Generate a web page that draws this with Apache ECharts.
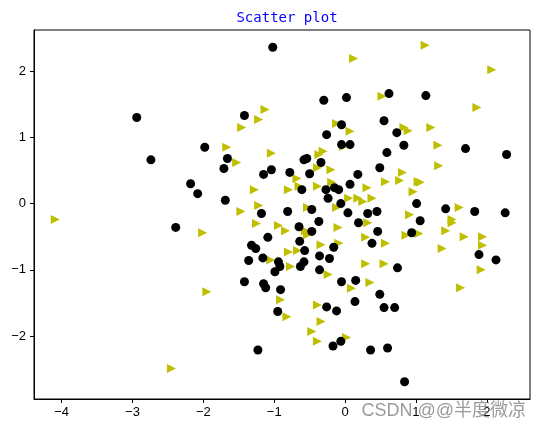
<!DOCTYPE html>
<html>
<head>
<meta charset="utf-8">
<title>Scatter plot</title>
<script src="https://cdn.jsdelivr.net/npm/echarts@6/dist/echarts.min.js"></script>
<style>
  html, body { margin: 0; padding: 0; background: #fff; }
  #scatterChart { width: 539px; height: 431px; }
</style>
</head>
<body>
<div id="scatterChart"></div>
<script>
// 黑色圆点 (x, y)
const circleX = [-2.94, -2.74, -1.98, -1.66, -1.71, -1.42, -2.18, -2.08, -1.69, -1.15,
  -1.18, -1.02, -0.30, 0.02, 0.62, 1.14, 0.55, -0.05, -0.26, 0.73,
  0.83, -0.05, 0.07, 0.59, 1.70, 2.28, -1.04, -0.78, -0.50, -0.58,
  -0.54, -0.34, 0.18, 0.49, -0.61, -0.27, -0.15, -0.09, -0.24, 0.07,
  -0.06, 1.01, 1.42, 1.83, 2.26, -0.81, -0.47, 0.04, 0.32, 0.45,
  -2.39, -0.37, -0.65, -1.09, -0.64, -1.32, -1.26, -0.57, -1.36, -1.16,
  -0.94, -0.92, -0.99, -0.58, -0.63, -0.36, -1.42, -1.15, -1.12, -0.91,
  0.19, 0.46, 0.38, -0.16, -0.22, 0.74, -0.05, 0.15, 1.06, 0.94,
  -0.47, -0.36, 1.89, 2.13, -0.95, 0.14, 0.49, 0.55, 0.70, -0.26,
  -0.12, -0.17, -0.06, 0.36, 0.60, 0.84, -1.23];
const circleY = [1.30, 0.66, 0.85, 0.68, 0.53, 1.33, 0.30, 0.15, 0.05, 0.44,
  -0.15, 2.36, 1.56, 1.60, 1.66, 1.63, 1.25, 1.19, 1.04, 1.07,
  0.88, 0.89, 0.89, 0.77, 0.83, 0.74, 0.51, 0.47, 0.45, 0.66,
  0.68, 0.62, 0.44, 0.54, 0.21, 0.21, 0.24, 0.21, 0.08, 0.29,
  0.00, 0.00, -0.08, -0.12, -0.14, -0.12, -0.09, -0.14, -0.15, -0.12,
  -0.36, -0.27, -0.35, -0.51, -0.57, -0.63, -0.68, -0.71, -0.86, -0.82,
  -0.88, -0.95, -1.03, -0.88, -0.95, -1.00, -1.18, -1.21, -1.27, -1.30,
  -0.29, -0.42, -0.60, -0.66, -0.83, -0.97, -1.18, -1.16, -0.26, -0.44,
  -0.42, -0.79, -0.77, -0.85, -1.63, -1.48, -1.37, -1.57, -1.57, -1.56,
  -1.62, -2.15, -2.08, -2.21, -2.18, -2.69, -2.21];

// 黄色三角 (x, y)
const triangleX = [-4.09, -2.01, -1.95, -2.45, -1.67, -1.53, -1.46, -1.22, -1.13, -1.28,
  -1.22, -1.47, -1.04, -1.25, 1.13, 2.07, 0.12, 0.52, 1.86, -0.12,
  0.07, 0.83, 0.89, 1.21, 1.31, 1.32, -0.31, -0.37, -0.02, -0.20,
  -0.39, -0.68, -0.80, -0.39, -0.19, 0.31, 0.57, 0.77, 0.81, 1.03,
  0.96, -0.53, 0.05, 0.18, 0.25, 0.38, -0.12, 1.61, 0.91, -0.65,
  -0.94, -0.84, -0.56, -0.53, -0.80, -0.67, -1.05, -0.77, -0.10, 0.29,
  0.57, 0.29, 0.55, 0.35, -0.24, -0.34, 0.32, 0.86, -0.09, 0.09,
  -0.91, -0.82, -0.39, -0.34, -0.47, -0.39, 0.02, 1.04, 1.42, 1.51,
  1.51, 1.68, 1.94, 1.94, 1.37, 1.92, 1.63, 1.06];
const triangleY = [-0.24, -0.44, -1.33, -2.49, 0.85, 0.62, 1.15, 1.27, 1.42, 0.21,
  -0.03, -0.12, 0.76, -0.30, 2.39, 2.02, 2.19, 1.62, 1.45, 1.21,
  1.09, 1.15, 1.10, 1.15, 0.88, 0.57, 0.79, 0.74, 0.86, 0.51,
  0.54, 0.38, 0.21, 0.26, 0.32, 0.24, 0.33, 0.35, 0.47, 0.33,
  0.18, -0.06, 0.08, 0.08, 0.03, 0.08, -0.06, -0.06, -0.17, 0.26,
  -0.33, -0.41, -0.41, -0.47, -0.73, -0.71, -0.85, -0.95, -0.36, -0.51,
  -0.60, -0.91, -0.91, -1.19, -1.07, -0.62, -0.29, -0.48, -0.60, -1.28,
  -1.45, -1.71, -1.53, -1.78, -1.93, -2.08, -2.02, -0.45, -0.41, -0.24,
  -0.29, -0.50, -0.50, -0.63, -0.68, -1.00, -1.27, 0.32];

// 刻度
const xTicks = [-4, -3, -2, -1, 0, 1, 2];
const yTicks = [-2, -1, 0, 1, 2];

function zip(xs, ys) {
  let arr = [];
  xs.map((x, i) => {
    arr.push([x, ys[i]]);
  });
  return arr;
}

let chart = echarts.init(document.getElementById("scatterChart"));
const tickFont = {
  color: "#000",
  fontSize: 13,
  fontFamily: "Liberation Sans",
  formatter: (v) => String(v).replace("-", "\u2212"),
};
let options = {
  animation: false,
  title: {
    text: "Scatter plot",
    left: 282,
    textAlign: "center",
    top: 6,
    textStyle: {
      color: "#0000ff",
      fontWeight: "normal",
      fontSize: 14,
      fontFamily: "DejaVu Sans Mono",
    },
  },
  grid: {
    left: 34,
    right: 9,
    top: 30,
    bottom: 32,
    show: true,
    borderColor: "#000",
    borderWidth: 1,
  },
  xAxis: {
    type: "value",
    min: -4.39,
    max: 2.61,
    splitLine: { show: false },
    axisLine: { onZero: false, lineStyle: { color: "#000", width: 1 } },
    axisTick: { length: 4, customValues: xTicks, lineStyle: { color: "#000" } },
    axisLabel: Object.assign({ margin: 7, customValues: xTicks }, tickFont),
  },
  yAxis: {
    type: "value",
    min: -2.95,
    max: 2.62,
    splitLine: { show: false },
    axisLine: { show: true, onZero: false, lineStyle: { color: "#000", width: 1 } },
    axisTick: { show: true, length: 4, customValues: yTicks, lineStyle: { color: "#000" } },
    axisLabel: Object.assign({ margin: 8, customValues: yTicks }, tickFont),
  },
  series: [
    {
      type: "scatter",
      data: [],
      symbol: "path://M0,0 L10,5 L0,10 Z", // 向右的三角
      symbolSize: [9, 9],
      itemStyle: { color: "#bfbf00", opacity: 1 },
    },
    {
      type: "scatter",
      data: [],
      symbol: "circle",
      symbolSize: 9,
      itemStyle: { color: "#000", opacity: 1 },
    },
  ],
  graphic: [
    {
      type: "text",
      right: 13,
      top: 402,
      style: {
        text: "CSDN @@半度微凉",
        fill: "rgba(120,120,120,0.75)",
        font: '18px "Liberation Sans", "Noto Sans CJK SC"',
      },
      z: 100,
    },
  ],
};
options.series[0].data = zip(triangleX, triangleY);
options.series[1].data = zip(circleX, circleY);
chart.setOption(options);
</script>
</body>
</html>
